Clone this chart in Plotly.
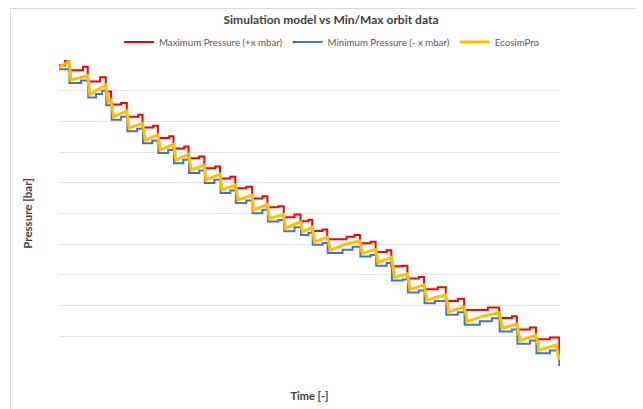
import plotly.graph_objects as go

# ---- data (arbitrary units) ----
eco_t = [0, 10, 12, 28.7, 30.7, 46.7, 49, 52, 54.5, 67.7, 70, 83.3, 86, 98.7, 101, 114.3,
         116.7, 129.3, 132, 145, 146.7, 160.7, 162.7, 176, 178.7, 192.7, 194.3, 208, 210,
         224.3, 226, 241, 243, 252.7, 255, 267.7, 271, 285, 300.3, 302.7, 316, 318.3, 331.7,
         335, 347.7, 350.3, 364.3, 367, 386, 389.3, 404.3, 407.7, 422, 439.3, 442.7, 457,
         460.3, 476, 479.3, 496, 499.3]
eco_p = [9.74, 9.97, 9.35, 9.49, 8.88, 9.19, 8.63, 8.70, 8.15, 8.34, 7.78, 7.94, 7.39, 7.56,
         7.07, 7.25, 6.74, 6.93, 6.42, 6.58, 6.09, 6.28, 5.77, 5.93, 5.44, 5.60, 5.11, 5.30,
         4.84, 4.97, 4.52, 4.73, 4.40, 4.55, 4.08, 4.22, 3.81, 3.99, 4.11, 3.70, 3.83, 3.40,
         3.57, 2.92, 3.03, 2.53, 2.67, 2.18, 2.35, 1.80, 1.96, 1.48, 1.65, 1.77, 1.26, 1.40,
         0.86, 1.04, 0.55, 0.72, 0.23]

max_t = [0, 6, 10, 24, 28.7, 41, 46.7, 52, 62, 67.7, 79, 83.3, 94, 98.7, 110, 114.3, 125,
         129.3, 140, 145, 156, 160.7, 171, 176, 187, 192.7, 203, 208, 219, 224.3, 235, 241,
         249, 252.7, 263, 267.7, 287, 295, 300.3, 311, 316, 327, 331.7, 343, 347.7, 359,
         364.3, 378, 386, 398, 404.3, 428, 439.3, 452, 457, 470, 476, 490, 499.3]
max_p = [9.82, 10.0, 9.67, 9.78, 9.30, 9.44, 8.97, 8.55, 8.60, 8.15, 8.22, 7.80, 7.86, 7.46,
         7.52, 7.12, 7.18, 6.80, 6.86, 6.47, 6.53, 6.14, 6.20, 5.82, 5.87, 5.49, 5.56, 5.20,
         5.24, 4.88, 4.97, 4.75, 4.80, 4.43, 4.48, 4.16, 4.24, 4.30, 4.03, 4.08, 3.75, 3.80,
         3.28, 3.30, 2.88, 2.93, 2.53, 2.60, 2.15, 2.22, 1.86, 1.94, 1.60, 1.65, 1.22, 1.29,
         0.90, 0.96, 0.50]

min_t = [0, 10.5, 22, 29.2, 37, 43, 47.2, 52.5, 62, 68.2, 78, 83.8, 93, 99.2, 109, 114.8,
         124, 129.8, 140, 145.5, 155, 161.2, 171, 176.5, 187, 193.2, 203, 208.5, 219, 224.8,
         235, 241.5, 249, 253.2, 263, 268.2, 283, 293, 300.8, 311, 316.5, 327, 332.2, 343,
         348.2, 359, 364.8, 375, 386.5, 398, 404.8, 420, 432, 439.8, 452, 457.5, 470, 476.5,
         490, 499.3]
min_p = [9.70, 9.25, 9.33, 8.78, 8.89, 9.00, 8.53, 8.05, 8.15, 7.68, 7.76, 7.29, 7.38, 6.97,
         7.07, 6.64, 6.75, 6.32, 6.40, 5.99, 6.10, 5.67, 5.75, 5.34, 5.42, 5.01, 5.12, 4.74,
         4.79, 4.42, 4.55, 4.30, 4.37, 3.98, 4.04, 3.71, 3.82, 3.92, 3.60, 3.65, 3.30, 3.39,
         2.82, 2.85, 2.43, 2.49, 2.08, 2.15, 1.70, 1.78, 1.38, 1.49, 1.59, 1.16, 1.22, 0.76,
         0.86, 0.45, 0.54, 0.03]

names = ["Maximum Pressure (+x mbar)", "Minimum Pressure (- x mbar)", "EcosimPro"]
colors = ["#FF0000", "#4472C4", "#FFC000"]

FONT = "Lato"
OFF = 8                      # default page body margin
W, H = 643 - OFF, 409 - OFF
L, T = 59 - OFF, 60 - OFF
pw, ph = 501, 307
R = W - L - pw
B = H - T - ph


def px_x(x):                 # page pixel -> paper x
    return (x - OFF - L) / pw


def px_y(y):                 # page pixel -> paper y
    return (H - B - (y - OFF)) / ph


fig = go.Figure()
fig.add_trace(go.Scatter(x=max_t, y=max_p, mode="lines", name=names[0], line_shape="hv",
                         line=dict(color=colors[0], width=2)))
fig.add_trace(go.Scatter(x=min_t, y=min_p, mode="lines", name=names[1], line_shape="hv",
                         line=dict(color=colors[1], width=2)))
fig.add_trace(go.Scatter(x=eco_t, y=eco_p, mode="lines", name=names[2],
                         line=dict(color=colors[2], width=3)))

fig.update_layout(
    width=W, height=H,
    margin=dict(l=L, r=R, t=T, b=B, autoexpand=False),
    paper_bgcolor="white", plot_bgcolor="white",
    font=dict(family=FONT, size=9.7, color="#595959"),
    title=dict(text="Simulation model vs Min/Max orbit data", x=(331 - OFF) / W,
               xanchor="center", y=1 - (20 - OFF) / H, yanchor="middle",
               xref="container", yref="container",
               font=dict(family=FONT, size=12, color="#404040", weight="bold")),
    legend=dict(orientation="h", x=px_x(332), xanchor="center", y=px_y(42), yanchor="middle",
                font=dict(family=FONT, size=9.7, color="#595959"), bgcolor="rgba(0,0,0,0)",
                itemwidth=30, tracegroupgap=0),
    xaxis=dict(range=[0, 500], showgrid=False, zeroline=False, showline=False,
               showticklabels=False, ticks="",
               title=dict(text="Time [-]", standoff=25,
                          font=dict(family=FONT, size=11, color="#404040", weight="bold"))),
    yaxis=dict(range=[0, 10], dtick=1, showgrid=True, gridcolor="#e6e6e6", gridwidth=1,
               zeroline=False, showline=False, showticklabels=False, ticks="",
               title=dict(text="Pressure [bar]", standoff=22,
                          font=dict(family=FONT, size=11.5, color="#404040", weight="bold"))),
    shapes=[dict(type="rect", xref="paper", yref="paper",
                 x0=px_x(10.5), x1=px_x(637.5), y0=px_y(420), y1=px_y(OFF + 0.5),
                 line=dict(color="#d9d9d9", width=1), fillcolor="rgba(0,0,0,0)", layer="below")],
)

fig.write_html("out.html")
